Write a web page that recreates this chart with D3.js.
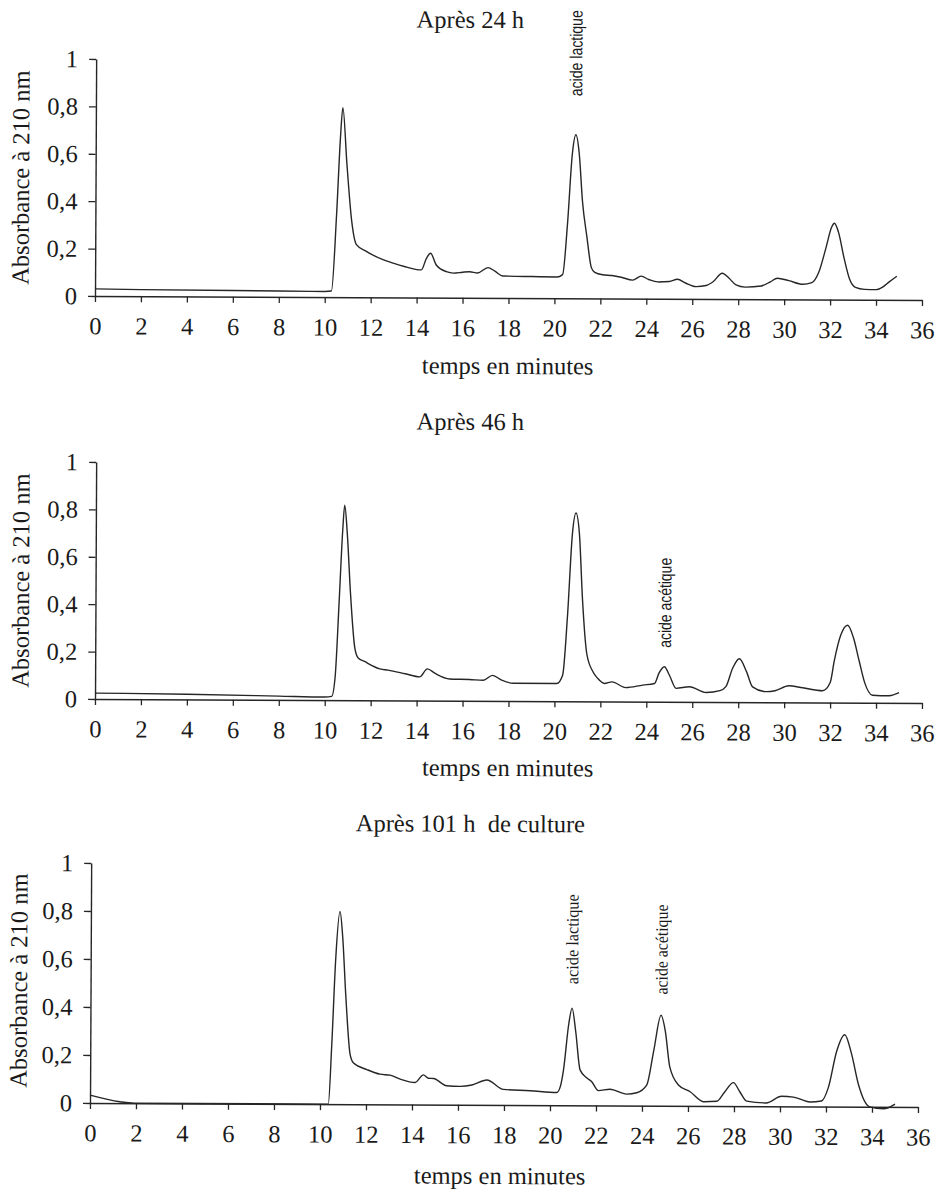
<!DOCTYPE html>
<html>
<head>
<meta charset="utf-8">
<script src="https://cdn.jsdelivr.net/npm/d3@7"></script>
<style>
  html, body { margin: 0; padding: 0; background: #fff; }
  svg { display: block; }
</style>
</head>
<body>
<div id="chart"></div>
<script>
// chromatogrammes : absorbance a 210 nm en fonction du temps (minutes)
const xTicks = [0, 2, 4, 6, 8, 10, 12, 14, 16, 18, 20, 22, 24, 26, 28, 30, 32, 34, 36]
const yTicks = [0, 0.2, 0.4, 0.6, 0.8, 1]
const titles = ["Après 24 h", "Après 46 h", "Après 101 h\u00a0 de culture"]
const xLabel = "temps en minutes"
const yLabel = "Absorbance à 210 nm"

// apres 24 h
const t24 = [0, 2, 6, 8, 10, 10.29, 10.5, 10.65, 10.75, 10.94, 11.16, 11.37, 11.8, 12.53, 12.97, 13.5, 14.0, 14.2, 14.42, 14.6, 14.85, 15.29, 15.6, 16.0, 16.3, 16.65, 17.1, 17.4, 17.75, 19, 20.1, 20.35, 20.55, 20.75, 20.9, 21.05, 21.2, 21.4, 21.6, 21.75, 22.1, 22.5, 22.9, 23.4, 23.77, 24.1, 24.5, 25.0, 25.35, 25.7, 26.16, 26.6, 26.9, 27.3, 27.6, 27.9, 28.3, 29.0, 29.4, 29.7, 30.2, 30.8, 31.2, 31.5, 31.8, 32.05, 32.17, 32.35, 32.6, 32.85, 33.1, 33.5, 34.0, 34.3, 34.57, 34.9]
const a24 = [0.03, 0.028, 0.026, 0.025, 0.024, 0.026, 0.35, 0.67, 0.80, 0.56, 0.32, 0.222, 0.194, 0.159, 0.145, 0.13, 0.118, 0.117, 0.166, 0.187, 0.138, 0.11, 0.104, 0.108, 0.11, 0.105, 0.128, 0.113, 0.093, 0.091, 0.09, 0.1, 0.31, 0.61, 0.69, 0.61, 0.41, 0.26, 0.13, 0.11, 0.1, 0.097, 0.09, 0.078, 0.095, 0.081, 0.071, 0.073, 0.083, 0.067, 0.052, 0.057, 0.073, 0.109, 0.088, 0.06, 0.051, 0.056, 0.074, 0.089, 0.079, 0.064, 0.071, 0.115, 0.215, 0.305, 0.322, 0.285, 0.175, 0.085, 0.052, 0.044, 0.043, 0.055, 0.076, 0.1]

// apres 46 h
const t46 = [0, 4, 8, 10, 10.3, 10.45, 10.6, 10.75, 10.83, 10.95, 11.1, 11.3, 11.45, 11.7, 12.4, 12.75, 13.5, 14.13, 14.46, 14.8, 15.43, 16.3, 16.9, 17.3, 17.7, 18.2, 20.1, 20.35, 20.55, 20.75, 20.9, 21.05, 21.2, 21.4, 21.67, 21.88, 22.17, 22.5, 23.1, 23.84, 24.35, 24.55, 24.78, 25.0, 25.29, 25.87, 26.6, 27.2, 27.46, 27.75, 28.04, 28.35, 28.62, 29.2, 29.6, 30.2, 30.8, 31.67, 32.0, 32.17, 32.45, 32.75, 33.0, 33.26, 33.5, 33.84, 34.57, 35.0]
const a46 = [0.025, 0.022, 0.016, 0.013, 0.016, 0.1, 0.4, 0.72, 0.823, 0.7, 0.45, 0.22, 0.178, 0.165, 0.133, 0.128, 0.113, 0.1, 0.134, 0.115, 0.092, 0.09, 0.087, 0.108, 0.088, 0.075, 0.075, 0.11, 0.36, 0.71, 0.795, 0.71, 0.43, 0.2, 0.125, 0.097, 0.076, 0.083, 0.059, 0.07, 0.077, 0.122, 0.148, 0.112, 0.057, 0.064, 0.04, 0.048, 0.065, 0.143, 0.183, 0.13, 0.065, 0.045, 0.049, 0.07, 0.062, 0.05, 0.085, 0.175, 0.285, 0.327, 0.275, 0.175, 0.085, 0.032, 0.03, 0.043]

// apres 101 h de culture
const t101 = [0, 1.3, 1.9, 10.36, 10.5, 10.65, 10.83, 10.95, 11.1, 11.3, 11.45, 12.03, 12.6, 13.04, 13.48, 14.13, 14.49, 14.7, 14.93, 15.5, 16.09, 16.6, 17.25, 17.97, 19.13, 20.29, 20.45, 20.58, 20.8, 20.94, 21.1, 21.3, 21.6, 21.8, 22.1, 22.6, 23.33, 23.77, 24.2, 24.5, 24.81, 25.0, 25.2, 25.58, 26.09, 26.67, 27.25, 27.6, 27.97, 28.25, 28.55, 29.4, 30.07, 30.58, 31.3, 31.8, 32.1, 32.45, 32.8, 33.1, 33.4, 33.9, 34.5, 35.0]
const a101 = [0.033, 0.006, 0, 0, 0.25, 0.6, 0.803, 0.7, 0.45, 0.207, 0.172, 0.145, 0.126, 0.122, 0.106, 0.092, 0.124, 0.11, 0.109, 0.079, 0.077, 0.083, 0.104, 0.065, 0.06, 0.053, 0.08, 0.148, 0.34, 0.405, 0.31, 0.148, 0.114, 0.1, 0.062, 0.068, 0.048, 0.054, 0.086, 0.23, 0.377, 0.31, 0.162, 0.087, 0.059, 0.018, 0.02, 0.06, 0.098, 0.06, 0.021, 0.014, 0.042, 0.039, 0.019, 0.023, 0.08, 0.23, 0.3, 0.22, 0.095, 0.0, -0.008, 0.012]

// pics nommes : temps du pic, hauteur du pied de l'etiquette
const peaks24 = [{ name: "acide lactique", t: 20.9, a: 0.853 }]
const peaks46 = [{ name: "acide acétique", t: 24.8, a: 0.228 }]
const peaks101 = [{ name: "acide lactique", t: 20.95, a: 0.505 }, { name: "acide acétique", t: 24.83, a: 0.464 }]

const W = 943, H = 1189
const serif = "'Liberation Serif', 'Times New Roman', Times, serif"
const ink = "#262626"
const fs = 24.5

const svg = d3.select("#chart").append("svg")
  .attr("width", W)
  .attr("height", H)
  .attr("viewBox", `0 0 ${W} ${H}`)

svg.append("rect").attr("width", W).attr("height", H).attr("fill", "#fff")

const fmt = d => d === 0 ? "0" : d === 1 ? "1" : d.toFixed(1).replace(".", ",")

function drawPanel(opt) {
  // the scan is turned a little, so each panel is too
  const g = svg.append("g")
    .attr("transform", `translate(${opt.ox},${opt.oy}) rotate(0.28)`)

  const x = d3.scaleLinear().domain([0, 36]).range([0, opt.w])
  const y = d3.scaleLinear().domain([0, 1]).range([0, -opt.h])

  const xa = g.append("g")
    .call(d3.axisBottom(x).tickValues(xTicks).tickSizeInner(6).tickSizeOuter(0).tickPadding(15).tickFormat(d3.format("d")))
  const ya = g.append("g")
    .call(d3.axisLeft(y).tickValues(yTicks).tickSizeInner(7).tickSizeOuter(0).tickPadding(11).tickFormat(fmt))

  for (const ax of [xa, ya]) {
    ax.attr("font-family", serif).attr("font-size", fs)
    ax.select(".domain").attr("stroke", ink).attr("stroke-width", 1.4)
    ax.selectAll(".tick line").attr("stroke", ink).attr("stroke-width", 1.3)
    ax.selectAll(".tick text").attr("fill", "#1a1a1a")
  }

  const pts = opt.t.map((t, i) => [t, opt.a[i]])
  const line = d3.line()
    .x(d => x(d[0]))
    .y(d => y(d[1]))
    .curve(d3.curveMonotoneX)

  g.append("path")
    .attr("d", line(pts))
    .attr("fill", "none")
    .attr("stroke", ink)
    .attr("stroke-width", 1.4)
    .attr("stroke-linejoin", "round")

  // narrow vertical peak names: squeeze the text to the wanted length
  g.selectAll(".peak")
    .data(opt.peaks)
    .enter()
    .append("text")
    .attr("class", "peak")
    .attr("dominant-baseline", "central")
    .attr("font-family", opt.peakFont)
    .attr("font-size", 17.5)
    .attr("fill", "#1a1a1a")
    .text(d => d.name)
    .each(function (d) {
      const sx = opt.peakLen / this.getComputedTextLength()
      d3.select(this).attr("transform", `translate(${x(d.t)},${y(d.a)}) rotate(-90) scale(${sx},1)`)
    })

  g.append("text")
    .attr("x", opt.titleX)
    .attr("y", opt.titleY)
    .attr("text-anchor", "middle")
    .attr("font-family", serif)
    .attr("font-size", fs)
    .attr("fill", "#1a1a1a")
    .text(opt.title)

  g.append("text")
    .attr("x", opt.xlabX)
    .attr("y", opt.xlabY)
    .attr("text-anchor", "middle")
    .attr("font-family", serif)
    .attr("font-size", fs)
    .attr("fill", "#1a1a1a")
    .text(xLabel)

  g.append("text")
    .attr("transform", `translate(${opt.ylabX},${opt.ylabY}) rotate(-90)`)
    .attr("text-anchor", "middle")
    .attr("dominant-baseline", "central")
    .attr("font-family", serif)
    .attr("font-size", fs)
    .attr("fill", "#1a1a1a")
    .text(yLabel)
}

const narrow = "'Liberation Sans Narrow', 'Arial Narrow', 'Liberation Sans', Arial, sans-serif"

drawPanel({ t: t24, a: a24, peaks: peaks24, title: titles[0], ox: 95, oy: 296, w: 827, h: 237,
  peakFont: narrow, peakLen: 86, titleX: 374, titleY: -270, xlabX: 413, xlabY: 76, ylabX: -75, ylabY: -118 })
drawPanel({ t: t46, a: a46, peaks: peaks46, title: titles[1], ox: 95, oy: 699, w: 827, h: 237,
  peakFont: narrow, peakLen: 90, titleX: 374, titleY: -271, xlabX: 413, xlabY: 75, ylabX: -75, ylabY: -118 })
drawPanel({ t: t101, a: a101, peaks: peaks101, title: titles[2], ox: 90, oy: 1103, w: 828, h: 240,
  peakFont: serif, peakLen: 90, titleX: 379, titleY: -273, xlabX: 410, xlabY: 79, ylabX: -72, ylabY: -122 })
</script>
</body>
</html>
